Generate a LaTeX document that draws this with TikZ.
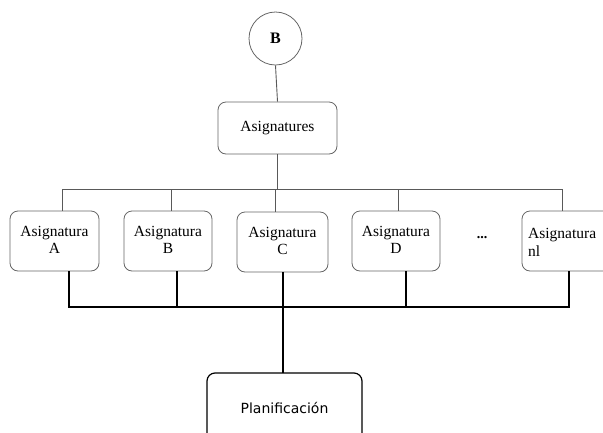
\documentclass[tikz,border=0pt]{standalone}
\usepackage{fontspec}
\setmainfont{Liberation Serif}
\newfontfamily\boxfont{Liberation Serif}
\newfontfamily\planfont{DejaVu Sans}
\begin{document}
\begin{tikzpicture}[x=1pt,y=-1pt,
  graybox/.style={draw=black!60, line width=0.8pt, rounded corners=8pt, inner sep=0pt, align=center, font=\boxfont\fontsize{15.5}{18}\selectfont},
  graylink/.style={draw=black!65, line width=0.9pt},
  blacklink/.style={draw=black, line width=1.4pt}]
\useasboundingbox (0,0) rectangle (603,432);
\node[circle, draw=black!60, line width=0.8pt, minimum size=53pt, inner sep=0pt, font=\boxfont\fontsize{16}{18}\selectfont\bfseries] (b) at (275.5,38.5) {B};
\node[graybox, minimum width=119pt, minimum height=52pt] (asg) at (277.5,128) {Asignatures};
\node[graybox, minimum width=89pt, minimum height=60pt] (a) at (54.5,241) {\raisebox{2pt}{\shortstack{Asignatura\\A}}};
\node[graybox, minimum width=88pt, minimum height=60pt] (bb) at (168,241) {\raisebox{2pt}{\shortstack{Asignatura\\B}}};
\node[graybox, minimum width=91pt, minimum height=60pt] (c) at (282.5,242) {\raisebox{2pt}{\shortstack{Asignatura\\C}}};
\node[graybox, minimum width=88pt, minimum height=60pt] (d) at (396,241) {\raisebox{2pt}{\shortstack{Asignatura\\D}}};
\node[graybox, minimum width=90pt, minimum height=60pt] (nl) at (567,241) {};
\node[anchor=west, font=\boxfont\fontsize{15.5}{18}\selectfont, align=left, inner sep=0pt] (nltext) at (528,242) {Asignatura\\nl};
\node[font=\boxfont\fontsize{14}{15}\selectfont\bfseries] (dots) at (482,238) {...};
\node[draw=black, line width=1.2pt, rounded corners=8pt, minimum width=155pt, minimum height=70pt, inner sep=0pt, font=\planfont\fontsize{14}{16}\selectfont] (plan) at (284.5,408) {Planificación};
\coordinate (tbar) at (0,189);
\draw[graylink] (b.south) -- (asg.north);
\draw[graylink] (asg.south) -- (asg.south |- tbar);
\draw[graylink] (62,189) -- (562,189);
\draw[graylink] (62,189) -- (62,211);
\draw[graylink] (171,189) -- (171,211);
\draw[graylink] (275,189) -- (275,212);
\draw[graylink] (398,189) -- (398,211);
\draw[graylink] (562,189) -- (562,211);
\draw[blacklink] (69,271) -- (69,307) -- (569,307) -- (569,271);
\draw[blacklink] (177,271) -- (177,307);
\draw[blacklink] (283,272) -- (283,307);
\draw[blacklink] (406,271) -- (406,307);
\draw[blacklink] (283,307) -- (283,373);
\end{tikzpicture}
\end{document}
